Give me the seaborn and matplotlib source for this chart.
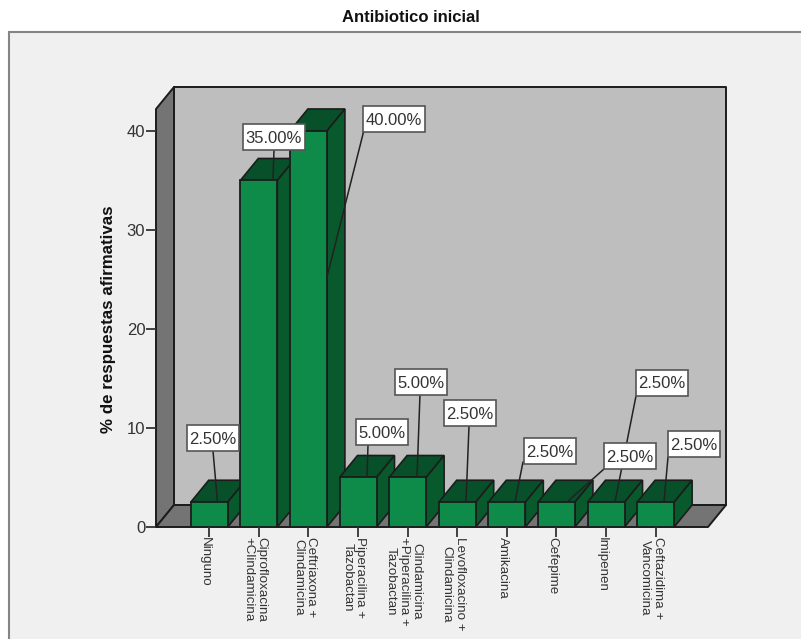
import matplotlib
matplotlib.use("Agg")
import matplotlib.pyplot as plt
from matplotlib.lines import Line2D
from matplotlib.patches import Polygon, Rectangle
from matplotlib.transforms import Affine2D, ScaledTranslation
import pandas as pd
import seaborn as sns

# Survey responses per initial antibiotic regimen
regimens = [
    "Ninguno",
    "Ciprofloxacina\n+Clindamicina",
    "Ceftriaxona +\nClindamicina",
    "Piperacilina +\nTazobactan",
    "Clindamicina\n+Piperacilina +\nTazobactan",
    "Levofloxacino +\nClindamicina",
    "Amikacina",
    "Cefepime",
    "Imipenen",
    "Ceftazidima +\nVancomicina",
]
percentages = [2.5, 35.0, 40.0, 5.0, 5.0, 2.5, 2.5, 2.5, 2.5, 2.5]
y_ticks = [0, 10, 20, 30, 40]

W, H = 801, 639
FRONT = "#0F8B49"
DARK_SIDE = "#085A2C"
DARK_TOP = "#07502A"
WALL = "#BEBEBE"
SHADE = "#747474"
PANEL = "#F0F0F0"
INK = "#1C1C1C"
TEXT = "#333333"

sns.set_theme(style="white")
plt.rcParams["font.family"] = ["Liberation Sans", "DejaVu Sans"]

fig = plt.figure(figsize=(W / 100, H / 100), dpi=100, facecolor="white")
pix = Affine2D().scale(1, -1).translate(0, H)  # top-left pixel coordinates

# Outer panel: only its top and left borders fall inside the figure
fig.add_artist(Rectangle((9, 32), W, H, transform=pix, facecolor=PANEL,
                         edgecolor="#858585", linewidth=1.5, zorder=-10))

# Plot box: floor front edge to the front top corner of the side wall
left, right, top, bottom = 156, 708, 109, 527
ax = fig.add_axes([left / W, 1 - bottom / H, (right - left) / W, (bottom - top) / H])
ax.patch.set_alpha(0)

df = pd.DataFrame({"regimen": regimens, "pct": percentages})
sns.barplot(data=df, x="regimen", y="pct", order=regimens, color=FRONT, saturation=1,
            width=0.746, edgecolor=INK, linewidth=1.3, ax=ax)

ax.set_xlim(-1.0726, 10.056)
ax.set_ylim(0, 42.22)

# Depth of the extrusion, converted from pixels to data units
DX = 18 / 49.6
DY = 22 / 9.9
x0, x1 = ax.get_xlim()
y1 = ax.get_ylim()[1]

box_style = dict(edgecolor=INK, linewidth=1.4, clip_on=False, joinstyle="round")
ax.add_patch(Polygon([(x0 + DX, DY), (x1 + DX, DY), (x1 + DX, y1 + DY), (x0 + DX, y1 + DY)],
                     facecolor=WALL, zorder=0.1, **box_style))
ax.add_patch(Polygon([(x0, 0), (x0 + DX, DY), (x0 + DX, y1 + DY), (x0, y1)],
                     facecolor=SHADE, zorder=0.2, **box_style))
ax.add_patch(Polygon([(x0, 0), (x1, 0), (x1 + DX, DY), (x0 + DX, DY)],
                     facecolor=SHADE, zorder=0.2, **box_style))

# Extrude each bar; later bars paint over the ones on their left
for i, bar in enumerate(ax.patches[:len(regimens)]):
    xa, xb = bar.get_x(), bar.get_x() + bar.get_width()
    v = bar.get_height()
    z = 1 + i
    bar.set_zorder(z + 0.2)
    ax.add_patch(Polygon([(xa, v), (xb, v), (xb + DX, v + DY), (xa + DX, v + DY)],
                         facecolor=DARK_TOP, edgecolor=INK, linewidth=1.2, zorder=z, clip_on=False))
    ax.add_patch(Polygon([(xb, 0), (xb + DX, DY), (xb + DX, v + DY), (xb, v)],
                         facecolor=DARK_SIDE, edgecolor=INK, linewidth=1.2, zorder=z + 0.1, clip_on=False))

# Axes furniture
for s in ax.spines.values():
    s.set_visible(False)
ax.set_yticks(y_ticks)
ax.set_xticks(range(len(regimens)))
ax.set_xticklabels(regimens, rotation=270, ha="center", va="top", fontsize=9.65,
                   linespacing=1.08, color=TEXT)
ax.tick_params(axis="both", which="major", length=7.2, width=1.3, color="#333333",
               bottom=True, left=True)
ax.tick_params(axis="y", labelsize=12, labelcolor=TEXT, pad=0.5)
ax.tick_params(axis="x", pad=0)
nudge = ScaledTranslation(-4 / 100, 0, fig.dpi_scale_trans)
for label in ax.get_xticklabels():
    label.set_transform(label.get_transform() + nudge)
ax.set_xlabel("")
ax.set_ylabel("")

fig.text(411 / W, 1 - 18 / H, "Antibiotico inicial", ha="center", va="center",
         fontsize=12, fontweight="bold", color="#111111")
fig.text(109 / W, 1 - 319 / H, "% de respuestas afirmativas", rotation=90, ha="center",
         va="center", fontsize=12.2, fontweight="bold", color="#111111")

# Callouts: box centre, start of the leader on the box, end of the leader on the bar
callouts = [
    ((213, 438), (213, 451), (217.5, 502)),
    ((274, 137), (274, 150), (273, 180)),
    ((394, 119), (363.5, 132), (327, 277)),
    ((381.5, 432), (368, 445), (367, 477)),
    ((421, 382), (420, 394), (417, 477)),
    ((470, 413), (469, 426), (466, 502)),
    ((550, 451), (523, 462), (515, 502)),
    ((630, 456), (604, 469), (567, 502)),
    ((662, 382.5), (636, 396), (615, 502)),
    ((694, 444), (668, 457), (664, 502)),
]
for value, (centre, start, end) in zip(percentages, callouts):
    text = f"{value:.2f}%"
    half_width = 31 if value >= 10 else 26
    fig.add_artist(Line2D([start[0], end[0]], [start[1], end[1]], transform=pix,
                          color="#222222", linewidth=1.1, zorder=5))
    fig.add_artist(Rectangle((centre[0] - half_width, centre[1] - 13), 2 * half_width, 26, transform=pix,
                             facecolor="white", edgecolor="#555555", linewidth=1.2, zorder=6))
    fig.text(centre[0] / W, 1 - centre[1] / H, text, ha="center", va="center_baseline",
             fontsize=12, color=TEXT, zorder=7)

fig.savefig("out.png", dpi=100)
